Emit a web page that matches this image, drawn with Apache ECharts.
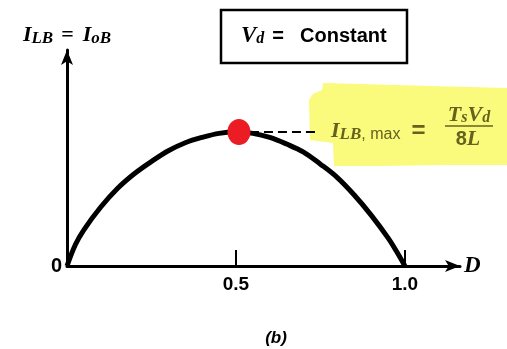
<!DOCTYPE html>
<html>
<head>
<meta charset="utf-8">
<script src="https://cdn.jsdelivr.net/npm/echarts@6/dist/echarts.min.js"></script>
<style>
  html, body { margin: 0; padding: 0; background: #fff; }
  #chart { width: 507px; height: 349px; }
</style>
</head>
<body>
<div id="chart"></div>
<script>
// Duty ratio D and normalised boundary current I_LB / I_LB,max
const dutyRatio = [0, 0.025, 0.05, 0.1, 0.15, 0.2, 0.25, 0.3, 0.35, 0.4, 0.45, 0.5,
                   0.55, 0.6, 0.65, 0.7, 0.75, 0.8, 0.85, 0.9, 0.95, 0.975, 1.0];
const boundaryCurrent = [0, 0.16, 0.27, 0.44, 0.58, 0.69, 0.78, 0.86, 0.92, 0.96, 0.99, 1.0,
                         0.99, 0.96, 0.91, 0.85, 0.76, 0.66, 0.53, 0.38, 0.21, 0.11, 0];
// Maximum of the curve
const peakPoint = [0.5, 1.0];
// End of the dashed leader towards the formula
const leaderEndD = 0.745;
// Tick positions and labels on the D axis
const dTicks = [0.5, 1.0];
const dTickLabels = ['0.5', '1.0'];
const originLabel = '0';

const serif = 'Liberation Serif, DejaVu Serif, serif';
const sans = 'Liberation Sans, Arial, sans-serif';
const olive = '#66611d';

const chart = echarts.init(document.getElementById('chart'));

const curve = dutyRatio.map((d, i) => [d, boundaryCurrent[i]]);

chart.setOption({
  animation: false,
  backgroundColor: '#ffffff',
  grid: { left: 67, top: 50, width: 393, height: 216, containLabel: false },
  xAxis: {
    type: 'value',
    min: 0,
    max: 1.163,
    name: 'D',
    nameLocation: 'end',
    nameGap: 4,
    nameTextStyle: { fontFamily: serif, fontStyle: 'italic', fontWeight: 'bold', fontSize: 23, color: '#000', verticalAlign: 'middle' },
    axisLine: { show: true, symbol: ['none', 'arrow'], symbolSize: [9, 15], lineStyle: { color: '#000', width: 3 } },
    axisTick: { show: true, inside: true, length: 16, customValues: dTicks, lineStyle: { color: '#000', width: 2 } },
    axisLabel: {
      show: true, customValues: dTicks, margin: 9,
      formatter: v => dTickLabels[dTicks.indexOf(v)] ?? '',
      fontFamily: sans, fontWeight: 'bold', fontSize: 19, color: '#000'
    },
    splitLine: { show: false }
  },
  yAxis: {
    type: 'value',
    min: 0,
    max: 1.612,
    name: '{i|I}{s|LB}{e|=}{i|I}{s|oB}',
    nameLocation: 'end',
    nameGap: 3,
    nameTextStyle: {
      align: 'center',
      rich: {
        i: { fontFamily: serif, fontStyle: 'italic', fontWeight: 'bold', fontSize: 22, lineHeight: 24, color: '#000' },
        s: { fontFamily: serif, fontStyle: 'italic', fontWeight: 'bold', fontSize: 17, lineHeight: 16, verticalAlign: 'bottom', color: '#000' },
        e: { fontFamily: serif, fontWeight: 'bold', fontSize: 22, lineHeight: 24, padding: [0, 9, 0, 8], color: '#000' }
      }
    },
    axisLine: { show: true, symbol: ['none', 'arrow'], symbolSize: [9, 15], lineStyle: { color: '#000', width: 3 } },
    axisTick: { show: false },
    axisLabel: {
      show: true, customValues: [0], margin: 5, padding: [10, 0, 0, 0],
      formatter: () => originLabel,
      fontFamily: sans, fontWeight: 'bold', fontSize: 20, color: '#000'
    },
    splitLine: { show: false }
  },
  series: [
    {
      type: 'line',
      data: curve,
      smooth: 0.35,
      showSymbol: false,
      lineStyle: { color: '#000', width: 5 },
      z: 3,
      markLine: {
        silent: true,
        symbol: ['none', 'none'],
        label: { show: false },
        lineStyle: { color: '#000', width: 2, type: [9, 5] },
        data: [[{ coord: peakPoint }, { coord: [leaderEndD, peakPoint[1]] }]]
      }
    },
    {
      type: 'scatter',
      data: [peakPoint],
      symbol: 'circle',
      symbolSize: [23, 26],
      symbolOffset: [3, 0],
      itemStyle: { color: '#ec1c24', opacity: 1 },
      z: 5
    }
  ],
  graphic: [
    // highlighter stroke behind the formula
    {
      type: 'polygon', z: 0,
      shape: { points: [[323, 83], [360, 84], [430, 86], [507, 88], [507, 165], [450, 165], [380, 166],
                        [334, 166], [333, 143], [310, 140], [309, 100], [313, 94], [322, 90]] },
      style: { fill: '#fafa7c' }
    },
    {
      type: 'text', z: 10, x: 331, y: 131,
      style: {
        text: '{I|I}{s|LB}{m|, max}{e|=}',
        verticalAlign: 'middle', align: 'left',
        rich: {
          I: { fontFamily: serif, fontStyle: 'italic', fontWeight: 'bold', fontSize: 22, lineHeight: 24, fill: olive },
          s: { fontFamily: serif, fontStyle: 'italic', fontWeight: 'bold', fontSize: 17, lineHeight: 16, verticalAlign: 'bottom', fill: olive },
          m: { fontFamily: sans, fontSize: 16, lineHeight: 17, verticalAlign: 'bottom', fill: olive },
          e: { fontFamily: sans, fontWeight: 'bold', fontSize: 24, lineHeight: 24, padding: [0, 0, 0, 11], fill: olive }
        }
      }
    },
    {
      type: 'text', z: 10, x: 469, y: 115,
      style: {
        text: '{T|T}{s|s}{T|V}{s|d}',
        verticalAlign: 'middle', align: 'center',
        rich: {
          T: { fontFamily: serif, fontStyle: 'italic', fontWeight: 'bold', fontSize: 22, lineHeight: 22, fill: olive },
          s: { fontFamily: serif, fontStyle: 'italic', fontWeight: 'bold', fontSize: 16, lineHeight: 15, verticalAlign: 'bottom', fill: olive }
        }
      }
    },
    {
      type: 'line', z: 10,
      shape: { x1: 445, y1: 126, x2: 493, y2: 126 },
      style: { stroke: olive, lineWidth: 1.6 }
    },
    {
      type: 'text', z: 10, x: 468, y: 139,
      style: {
        text: '{n|8}{L|L}',
        verticalAlign: 'middle', align: 'center',
        rich: {
          n: { fontFamily: sans, fontWeight: 'bold', fontSize: 20, fill: olive },
          L: { fontFamily: serif, fontStyle: 'italic', fontWeight: 'bold', fontSize: 22, fill: olive }
        }
      }
    },
    // operating-condition box
    {
      type: 'rect', z: 10,
      shape: { x: 221, y: 10, width: 186, height: 53 },
      style: { fill: 'none', stroke: '#000', lineWidth: 2.5 }
    },
    {
      type: 'text', z: 11, x: 241, y: 36,
      style: {
        text: '{V|V}{s|d}{e|=}{c|Constant}',
        verticalAlign: 'middle', align: 'left',
        rich: {
          V: { fontFamily: serif, fontStyle: 'italic', fontWeight: 'bold', fontSize: 23, lineHeight: 22, fill: '#000' },
          s: { fontFamily: serif, fontStyle: 'italic', fontWeight: 'bold', fontSize: 16, lineHeight: 15, verticalAlign: 'bottom', fill: '#000' },
          e: { fontFamily: sans, fontWeight: 'bold', fontSize: 20, lineHeight: 22, padding: [0, 16, 0, 8], fill: '#000' },
          c: { fontFamily: sans, fontWeight: 'bold', fontSize: 20, lineHeight: 22, fill: '#000' }
        }
      }
    },
    {
      type: 'text', z: 10, x: 276, y: 338,
      style: {
        text: '(b)', align: 'center', verticalAlign: 'middle',
        fontFamily: sans, fontStyle: 'italic', fontWeight: 'bold', fontSize: 17, fill: '#000'
      }
    }
  ]
});
</script>
</body>
</html>
